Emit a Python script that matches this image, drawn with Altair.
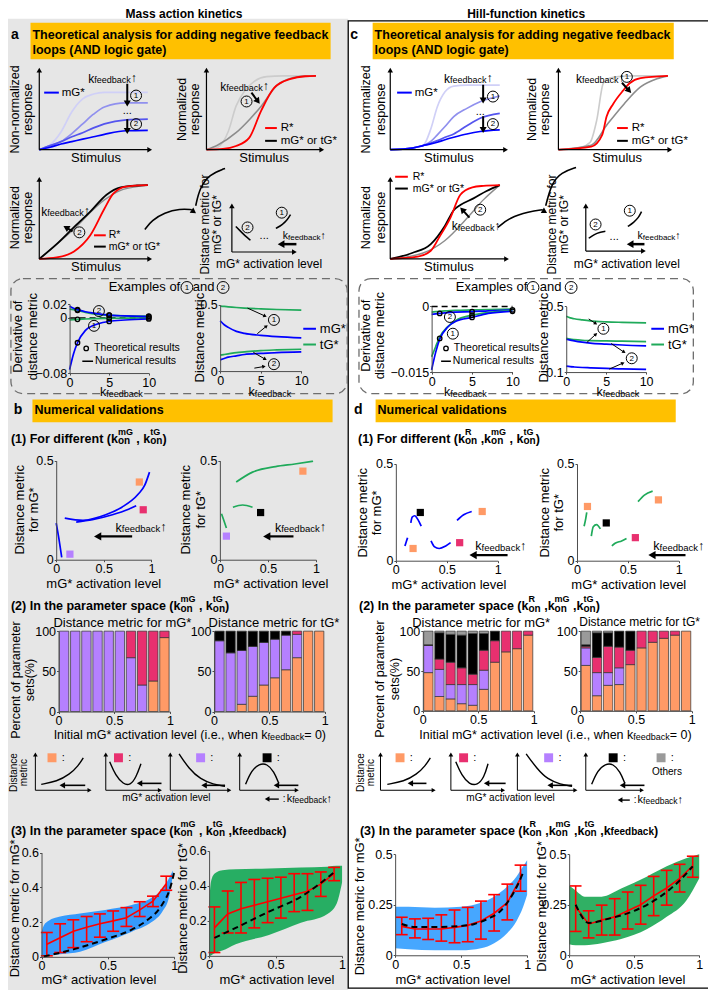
import math
import altair as alt
import pandas as pd

# ============================ DATA ============================
# colours
BLUE, GREEN, RED = "#0000FF", "#1FAA5A", "#FF0000"
OR, MA, PU, BK, GY = "#FF9A66", "#E8306F", "#B580FF", "#000000", "#9A9A9A"

# (a) schematic 1: non-normalized mG* response vs stimulus (4 feedback strengths)
A1_S = [0, 0.1, 0.2, 0.3, 0.4, 0.5, 0.6, 0.8, 1.0]
A1_K0 = [0, 0.06, 0.22, 0.47, 0.63, 0.69, 0.71, 0.71, 0.71]
A1_K1 = [0, 0.05, 0.10, 0.20, 0.32, 0.44, 0.53, 0.58, 0.58]
A1_K2 = [0, 0.05, 0.10, 0.16, 0.21, 0.27, 0.32, 0.37, 0.38]
A1_K3 = [0, 0.03, 0.07, 0.10, 0.13, 0.16, 0.19, 0.235, 0.24]
# (a) schematic 2: normalized responses
A2_LG_X = [0, 0.1, 0.2, 0.27, 0.35, 0.44, 0.55, 0.7, 1.0]
A2_LG_Y = [0, 0.03, 0.25, 0.59, 0.80, 0.93, 0.99, 1.0, 1.0]
A2_DG_X = [0, 0.1, 0.27, 0.4, 0.5, 0.65, 0.85, 1.0]
A2_DG_Y = [0, 0.06, 0.23, 0.42, 0.59, 0.88, 0.99, 1.0]
A2_R_X = [0, 0.15, 0.27, 0.39, 0.5, 0.62, 0.77, 0.9, 1.0]
A2_R_Y = [0, 0.01, 0.05, 0.16, 0.53, 0.84, 0.96, 0.995, 1.0]
# (a) schematic 3
A3_G_X = [0, 0.3, 0.6, 0.75, 0.9, 1.0]
A3_G_Y = [0, 0.38, 0.80, 0.93, 0.98, 1.0]
A3_K_X = [0, 0.16, 0.32, 0.47, 0.62, 0.75, 0.9, 1.0]
A3_K_Y = [0, 0.20, 0.43, 0.64, 0.87, 0.97, 0.995, 1.0]
A3_R_X = [0, 0.16, 0.32, 0.47, 0.6, 0.68, 0.8, 1.0]
A3_R_Y = [0, 0.02, 0.10, 0.32, 0.68, 0.88, 0.98, 1.0]
# (c) schematic 1
C1_S = [0, 0.2, 0.3, 0.37, 0.43, 0.5, 0.58, 0.7, 0.82, 1.0]
C1_K0 = [0, 0.02, 0.05, 0.25, 0.52, 0.70, 0.77, 0.78, 0.78, 0.78]
C1_K1 = [0, 0.02, 0.05, 0.10, 0.18, 0.28, 0.40, 0.50, 0.58, 0.65]
C1_K2 = [0, 0.02, 0.05, 0.08, 0.11, 0.15, 0.19, 0.29, 0.38, 0.44]
C1_K3 = [0, 0.02, 0.05, 0.07, 0.09, 0.12, 0.15, 0.19, 0.22, 0.24]
# (c) schematic 2
C2_LG_X = [0, 0.2, 0.29, 0.35, 0.41, 0.47, 0.55, 0.7, 1.0]
C2_LG_Y = [0, 0.03, 0.10, 0.40, 0.90, 0.97, 0.99, 1.0, 1.0]
C2_R_X = [0, 0.3, 0.4, 0.44, 0.5, 0.59, 0.65, 0.75, 1.0]
C2_R_Y = [0, 0.04, 0.20, 0.45, 0.62, 0.80, 0.90, 0.97, 1.0]
C2_DG_X = [0, 0.3, 0.45, 0.6, 0.75, 0.9, 1.0]
C2_DG_Y = [0, 0.06, 0.35, 0.62, 0.85, 0.96, 1.0]
# (c) schematic 3
C3_R_X = [0, 0.25, 0.37, 0.45, 0.55, 0.64, 0.75, 0.85, 1.0]
C3_R_Y = [0, 0.03, 0.11, 0.30, 0.56, 0.87, 0.97, 0.99, 1.0]
C3_K_X = [0, 0.2, 0.37, 0.5, 0.58, 0.64, 0.76, 0.88, 1.0]
C3_K_Y = [0, 0.08, 0.20, 0.45, 0.66, 0.73, 0.82, 0.92, 1.0]
C3_G_X = [0, 0.3, 0.5, 0.7, 0.85, 1.0]
C3_G_Y = [0, 0.08, 0.25, 0.55, 0.80, 1.0]

# Examples of (1) and (2): k_feedback grid
EX_K = [0, 0.5, 1, 2, 3, 5, 7, 10]
EXA_D_MG1 = [-0.075, -0.052, -0.036, -0.018, -0.011, -0.005, -0.003, -0.0015]
EXA_D_MG2 = [0.017, 0.014, 0.012, 0.009, 0.007, 0.004, 0.003, 0.002]
EXA_D_TG2 = [0.013, 0.012, 0.011, 0.008, 0.006, 0.004, 0.003, 0.0025]
EXA_D_TG1 = [-0.003, -0.0025, -0.002, -0.0015, -0.001, -0.0006, -0.0003, 0.0]
EXA_TH_K = [1, 1, 1, 1, 5, 5, 5, 5, 10, 10, 10, 10]
EXA_TH_V = [-0.036, -0.002, 0.011, 0.012, -0.005, -0.0006, 0.004, 0.004, -0.0015, 0.0, 0.0025, 0.002]
EXA_M_TG1 = [0.49, 0.488, 0.485, 0.48, 0.476, 0.47, 0.465, 0.46]
EXA_M_MG1 = [0.38, 0.35, 0.33, 0.30, 0.285, 0.27, 0.26, 0.25]
EXA_M_TG2 = [0.12, 0.125, 0.13, 0.14, 0.145, 0.155, 0.16, 0.165]
EXA_M_MG2 = [0.085, 0.095, 0.105, 0.115, 0.125, 0.133, 0.14, 0.145]

EXC_D_MG1 = [-0.0145, -0.0105, -0.0075, -0.0047, -0.0034, -0.0025, -0.0016, -0.0011]
EXC_D_TG1 = [-0.0115, -0.0092, -0.0070, -0.0046, -0.0032, -0.0020, -0.0014, -0.0009]
EXC_D_MG2 = [-0.0018, -0.0017, -0.0016, -0.0014, -0.0013, -0.0012, -0.0010, -0.0008]
EXC_D_TG2 = [-0.0013, -0.0012, -0.0011, -0.0010, -0.0009, -0.0008, -0.0007, -0.0006]
EXC_TH_K = [1, 1, 5, 5, 5, 10, 10]
EXC_TH_V = [-0.0073, -0.0016, -0.0025, -0.0020, -0.0012, -0.0011, -0.0008]
EXC_M_TG1 = [0.44, 0.43, 0.425, 0.418, 0.412, 0.406, 0.403, 0.40]
EXC_M_TG2 = [0.306, 0.301, 0.298, 0.294, 0.292, 0.29, 0.288, 0.286]
EXC_M_MG1 = [0.30, 0.295, 0.29, 0.282, 0.276, 0.27, 0.265, 0.26]
EXC_M_MG2 = [0.136, 0.133, 0.131, 0.128, 0.126, 0.122, 0.119, 0.116]

# (b)(1) distance metric vs mG* activation level
B1_MG_C1_X = [0.09, 0.28, 0.52, 0.69, 0.86, 0.93, 0.98]
B1_MG_C1_Y = [0.21, 0.199, 0.227, 0.265, 0.33, 0.376, 0.442]
B1_MG_C2_X = [0.21, 0.38, 0.59, 0.76, 0.84]
B1_MG_C2_Y = [0.19, 0.202, 0.227, 0.255, 0.272]
B1_MG_C3_X = [0.0, 0.024, 0.058]
B1_MG_C3_Y = [0.185, 0.119, 0.012]
B1_MG_SQ_X = [0.873, 0.914, 0.144]
B1_MG_SQ_Y = [0.392, 0.252, 0.028]
B1_MG_SQ_C = [OR, MA, PU]
B1_TG_C1_X = [0.17, 0.34, 0.58, 0.78, 0.97]
B1_TG_C1_Y = [0.392, 0.442, 0.47, 0.483, 0.497]
B1_TG_C2_X = [0.136, 0.237, 0.34]
B1_TG_C2_Y = [0.265, 0.276, 0.265]
B1_TG_C3_X = [0.017, 0.04, 0.068]
B1_TG_C3_Y = [0.232, 0.2, 0.16]
B1_TG_SQ_X = [0.864, 0.424, 0.068]
B1_TG_SQ_Y = [0.447, 0.238, 0.119]
B1_TG_SQ_C = [OR, BK, PU]
# (d)(1)
D1_MG_S1_X = [0.089, 0.115]
D1_MG_S1_Y = [0.076, 0.119]
D1_MG_S2_X = [0.147, 0.16, 0.185, 0.217, 0.249]
D1_MG_S2_Y = [0.195, 0.225, 0.232, 0.212, 0.178]
D1_MG_S3_X = [0.345, 0.377, 0.425, 0.489, 0.537]
D1_MG_S3_Y = [0.102, 0.073, 0.063, 0.076, 0.093]
D1_MG_S4_X = [0.60, 0.665, 0.744]
D1_MG_S4_Y = [0.208, 0.237, 0.254]
D1_MG_SQ_X = [0.24, 0.847, 0.169, 0.626]
D1_MG_SQ_Y = [0.249, 0.254, 0.063, 0.093]
D1_MG_SQ_C = [BK, OR, OR, MA]
D1_TG_S1_X = [0.07, 0.087, 0.096]
D1_TG_S1_Y = [0.178, 0.22, 0.249]
D1_TG_S2_X = [0.141, 0.16, 0.192, 0.23]
D1_TG_S2_Y = [0.127, 0.175, 0.186, 0.164]
D1_TG_S3_X = [0.343, 0.375, 0.439, 0.487]
D1_TG_S3_Y = [0.076, 0.09, 0.102, 0.115]
D1_TG_S4_X = [0.60, 0.663, 0.744]
D1_TG_S4_Y = [0.305, 0.339, 0.359]
D1_TG_SQ_X = [0.103, 0.288, 0.574, 0.801]
D1_TG_SQ_Y = [0.28, 0.195, 0.119, 0.314]
D1_TG_SQ_C = [OR, BK, MA, OR]

# (b)(2) / (d)(2): percent of parameter sets per class (10 bins of initial mG* level)
B2_MG_OR = [0, 0, 0, 0, 0, 0, 0, 0, 38, 92]
B2_MG_PU = [100, 100, 100, 100, 100, 100, 67, 33, 0, 0]
B2_MG_MA = [0, 0, 0, 0, 0, 0, 33, 67, 62, 8]
B2_MG_BK = [0, 0, 0, 0, 0, 0, 0, 0, 0, 0]
B2_TG_OR = [0, 0, 9, 19, 33, 42, 52, 67, 100, 100]
B2_TG_PU = [88, 73, 67, 62, 53, 48, 43, 29, 0, 0]
B2_TG_MA = [0, 0, 0, 0, 0, 0, 0, 4, 0, 0]
B2_TG_BK = [12, 27, 24, 19, 14, 10, 5, 0, 0, 0]
D2_MG_OR = [48, 18, 15, 9, 7, 27, 61, 74, 78, 95]
D2_MG_PU = [34, 34, 18, 24, 26, 24, 0, 0, 0, 0]
D2_MG_MA = [0, 13, 28, 21, 13, 25, 27, 26, 22, 5]
D2_MG_BK = [1, 33, 35, 41, 51, 21, 12, 0, 0, 0]
D2_MG_GY = [17, 2, 4, 5, 3, 3, 0, 0, 0, 0]
D2_TG_OR = [57, 19, 32, 33, 58, 79, 86, 91, 95, 100]
D2_TG_PU = [22, 29, 16, 21, 0, 0, 0, 0, 0, 0]
D2_TG_MA = [2, 19, 33, 26, 18, 21, 14, 9, 5, 0]
D2_TG_BK = [2, 31, 17, 20, 24, 0, 0, 0, 0, 0]
D2_TG_GY = [17, 2, 2, 0, 0, 0, 0, 0, 0, 0]

# (b)(3) / (d)(3): envelopes of the parameter-sample clouds, error bars, trend lines
B3_MG_CX = [0, 0.017, 0.054, 0.14, 0.29, 0.48, 0.68, 0.83, 0.91, 0.96, 0.99]
B3_MG_HI = [0.138, 0.18, 0.207, 0.232, 0.25, 0.27, 0.298, 0.34, 0.39, 0.45, 0.496]
B3_MG_LO = [0.0, 0.0, 0.005, 0.015, 0.03, 0.085, 0.145, 0.2, 0.26, 0.34, 0.47]
B3_MG_EX = [0.04, 0.14, 0.24, 0.34, 0.44, 0.54, 0.64, 0.74, 0.84, 0.94]
B3_MG_EHI = [0.14, 0.19, 0.213, 0.232, 0.247, 0.264, 0.283, 0.317, 0.349, 0.464]
B3_MG_ELO = [0.006, 0.025, 0.053, 0.087, 0.113, 0.147, 0.175, 0.232, 0.289, 0.383]
B3_MG_EMU = [0.072, 0.11, 0.147, 0.17, 0.19, 0.207, 0.225, 0.27, 0.32, 0.42]
B3_MG_DX = [0.017, 0.24, 0.48, 0.68, 0.8, 0.9, 0.975, 1.0]
B3_MG_DY = [0.002, 0.043, 0.1, 0.157, 0.213, 0.29, 0.41, 0.487]

B3_TG_CX = [0, 0.01, 0.03, 0.06, 0.1, 0.2, 0.45, 0.69, 0.89, 0.96, 1.0]
B3_TG_HI = [0.29, 0.40, 0.46, 0.48, 0.49, 0.495, 0.5, 0.505, 0.51, 0.515, 0.515]
B3_TG_LO = [0.0, 0.0, 0.01, 0.02, 0.03, 0.066, 0.12, 0.19, 0.24, 0.30, 0.42]
B3_TG_EX = [0.04, 0.14, 0.24, 0.34, 0.44, 0.54, 0.64, 0.74, 0.84, 0.94]
B3_TG_EHI = [0.28, 0.371, 0.42, 0.437, 0.444, 0.45, 0.47, 0.47, 0.48, 0.506]
B3_TG_ELO = [0.019, 0.131, 0.131, 0.16, 0.19, 0.216, 0.253, 0.26, 0.34, 0.43]
B3_TG_EMU = [0.16, 0.24, 0.27, 0.29, 0.31, 0.33, 0.35, 0.37, 0.41, 0.47]
B3_TG_DX = [0.04, 0.2, 0.45, 0.69, 0.94]
B3_TG_DY = [0.103, 0.16, 0.253, 0.338, 0.478]

D3_MG_CX = [0, 0.1, 0.3, 0.5, 0.65, 0.75, 0.85, 0.92, 0.97, 1.0]
D3_MG_HI = [0.24, 0.24, 0.235, 0.24, 0.26, 0.29, 0.34, 0.39, 0.44, 0.47]
D3_MG_LO = [0.035, 0.03, 0.025, 0.025, 0.035, 0.06, 0.11, 0.17, 0.24, 0.30]
D3_MG_EX = [0.05, 0.15, 0.25, 0.35, 0.45, 0.55, 0.65, 0.75, 0.85, 0.95]
D3_MG_EHI = [0.188, 0.18, 0.183, 0.2, 0.224, 0.237, 0.268, 0.3, 0.352, 0.446]
D3_MG_ELO = [0.102, 0.086, 0.078, 0.07, 0.062, 0.067, 0.08, 0.12, 0.175, 0.317]
D3_MG_EMU = [0.143, 0.13, 0.13, 0.13, 0.138, 0.148, 0.17, 0.208, 0.26, 0.38]
D3_MG_DX = [0.05, 0.15, 0.3, 0.5, 0.6, 0.7, 0.8, 0.87, 0.93, 0.97]
D3_MG_DY = [0.155, 0.14, 0.14, 0.145, 0.155, 0.18, 0.22, 0.28, 0.35, 0.41]

D3_TG_CX = [0, 0.05, 0.12, 0.25, 0.4, 0.6, 0.75, 0.9, 1.0]
D3_TG_HI = [0.345, 0.32, 0.29, 0.29, 0.33, 0.39, 0.44, 0.48, 0.50]
D3_TG_LO = [0.055, 0.05, 0.05, 0.06, 0.08, 0.13, 0.19, 0.27, 0.38]
D3_TG_EX = [0.05, 0.15, 0.25, 0.35, 0.45, 0.55, 0.65, 0.75, 0.85, 0.95]
D3_TG_EHI = [0.343, 0.22, 0.248, 0.28, 0.313, 0.346, 0.39, 0.42, 0.45, 0.49]
D3_TG_ELO = [0.118, 0.086, 0.1, 0.1, 0.13, 0.154, 0.196, 0.248, 0.313, 0.386]
D3_TG_EMU = [0.24, 0.154, 0.175, 0.19, 0.22, 0.25, 0.294, 0.333, 0.38, 0.443]
D3_TG_DX = [0.05, 0.15, 0.3, 0.5, 0.7, 0.85, 0.95]
D3_TG_DY = [0.25, 0.16, 0.18, 0.22, 0.29, 0.37, 0.44]

# ============================ LAYOUT HELPERS ============================
W, H = 700, 982
KX, KY = W / 716.0, H / 998.0


def X(v):
    return round(v * KX, 2)


def Y(v):
    return round(v * KY, 2)


LAYERS_BG, LAYERS_DATA = [], []
TXT_ROWS, LINE_ROWS, HEAD_ROWS, CIRC_ROWS, SQ_ROWS, OPEN_ROWS = [], [], [], [], [], []


class Box:
    def __init__(self, xd, xr, yd, yr):
        self.xd, self.xr, self.yd, self.yr = xd, xr, yd, yr

    def xs(self):
        return alt.Scale(domain=self.xd, range=[X(self.xr[0]), X(self.xr[1])], nice=False, zero=False)

    def ys(self):
        return alt.Scale(domain=self.yd, range=[Y(self.yr[0]), Y(self.yr[1])], nice=False, zero=False)


def enc_xy(box, xf="x", yf="y"):
    return dict(x=alt.X(f"{xf}:Q", scale=box.xs(), axis=None),
                y=alt.Y(f"{yf}:Q", scale=box.ys(), axis=None))


AX_STYLE = dict(format=".4~g", title=None, zindex=1, grid=False, labelFlush=False, domainColor="#4D4D4D",
                tickColor="#4D4D4D", labelColor="black", labelFontSize=12.5, tickSize=2, labelPadding=1,
                domainWidth=1)


def add_axes(box, xticks, yticks):
    df = pd.DataFrame({"x": box.xd, "y": box.yd})
    LAYERS_DATA.append(alt.Chart(df).mark_point(opacity=0).encode(
        x=alt.X("x:Q", scale=box.xs(),
                axis=alt.Axis(orient="bottom", offset=Y(box.yr[0]) - H, values=xticks, **AX_STYLE)),
        y=alt.Y("y:Q", scale=box.ys(),
                axis=alt.Axis(orient="left", offset=-X(box.xr[0]), values=yticks, **AX_STYLE))))


def add_line(box, xs, ys, color, sw=1.7, dash=None, interp="monotone"):
    kw = dict(color=color, strokeWidth=sw, interpolate=interp)
    if dash:
        kw["strokeDash"] = dash
    LAYERS_DATA.append(alt.Chart(pd.DataFrame({"x": xs, "y": ys})).mark_line(**kw).encode(**enc_xy(box)))


def add_squares(box, xs, ys, cols, size=52):
    df = pd.DataFrame({"x": xs, "y": ys, "c": cols})
    LAYERS_DATA.append(alt.Chart(df).mark_square(size=size, opacity=1).encode(
        **enc_xy(box), color=alt.Color("c:N", scale=None)))


def add_open(box, xs, ys, size=20):
    df = pd.DataFrame({"x": xs, "y": ys})
    LAYERS_DATA.append(alt.Chart(df).mark_point(shape="circle", filled=False, color="black", size=size,
                                                strokeWidth=1.3, opacity=1).encode(**enc_xy(box)))


def add_bars(box, stack):
    rows = []
    for i in range(10):
        base = 0
        for hs, col in stack:
            h = hs[i]
            if h > 0:
                rows.append(dict(x0=i * 0.1 + 0.008, x1=i * 0.1 + 0.092, y0=base, y1=base + h, c=col))
            base += h
    df = pd.DataFrame(rows)
    LAYERS_DATA.append(alt.Chart(df).mark_rect(stroke="#333333", strokeWidth=0.7).encode(
        x=alt.X("x0:Q", scale=box.xs(), axis=None), x2="x1:Q",
        y=alt.Y("y0:Q", scale=box.ys(), axis=None), y2="y1:Q",
        color=alt.Color("c:N", scale=None)))


def add_cloud(box, xs, lo, hi, color, opacity=0.88):
    df = pd.DataFrame({"x": xs, "lo": lo, "hi": hi})
    LAYERS_DATA.append(alt.Chart(df).mark_area(color=color, opacity=opacity, interpolate="monotone").encode(
        x=alt.X("x:Q", scale=box.xs(), axis=None),
        y=alt.Y("hi:Q", scale=box.ys(), axis=None), y2="lo:Q"))


def add_err(box, xs, lo, hi, mu, cap=0.045, color=RED, sw=1.6):
    df = pd.DataFrame({"x": xs, "lo": lo, "hi": hi, "mu": mu,
                       "xl": [v - cap for v in xs], "xr": [v + cap for v in xs]})
    base = alt.Chart(df)
    LAYERS_DATA.append(base.mark_rule(color=color, strokeWidth=sw).encode(
        x=alt.X("x:Q", scale=box.xs(), axis=None), y=alt.Y("lo:Q", scale=box.ys(), axis=None), y2="hi:Q"))
    for f in ("lo", "hi"):
        LAYERS_DATA.append(base.mark_rule(color=color, strokeWidth=sw).encode(
            x=alt.X("xl:Q", scale=box.xs(), axis=None), x2="xr:Q",
            y=alt.Y(f"{f}:Q", scale=box.ys(), axis=None)))
    LAYERS_DATA.append(base.mark_line(color=color, strokeWidth=sw).encode(
        x=alt.X("x:Q", scale=box.xs(), axis=None), y=alt.Y("mu:Q", scale=box.ys(), axis=None)))


# ---- decoration helpers (layout only) ----
def txt_c(cx, cy, t, s=12.5, w="normal", a="left", c="black", ang=0):
    TXT_ROWS.append(dict(x=round(cx, 2), y=round(cy, 2), t=t, s=s, w=w, a=a, c=c, ang=ang))


def txt(x, y, t, s=12.5, w="normal", a="left", c="black", ang=0):
    txt_c(X(x), Y(y), t, s, w, a, c, ang)


_LOW_R = dict(zip("abcdefghijklmnopqrstuvwxyz",
                  [556, 556, 500, 556, 556, 278, 556, 556, 222, 222, 500, 222, 833, 556, 556, 556, 556, 333, 500,
                   278, 556, 500, 722, 500, 500, 500]))
_LOW_B = dict(zip("abcdefghijklmnopqrstuvwxyz",
                  [556, 611, 556, 611, 556, 333, 611, 611, 278, 278, 556, 278, 889, 611, 611, 611, 611, 389, 556,
                   333, 611, 556, 778, 556, 556, 500]))
_UP_R = dict(zip("ABCDEFGHIJKLMNOPQRSTUVWXYZ",
                 [667, 667, 722, 722, 667, 611, 778, 722, 278, 500, 667, 556, 833, 722, 778, 667, 778, 722, 667,
                  611, 722, 667, 944, 667, 667, 611]))
_UP_B = dict(zip("ABCDEFGHIJKLMNOPQRSTUVWXYZ",
                 [722, 722, 722, 722, 667, 611, 778, 722, 278, 556, 722, 611, 833, 722, 778, 667, 778, 722, 667,
                  611, 722, 667, 944, 667, 667, 611]))
_PUN = {" ": 278, "(": 333, ")": 333, "*": 389, ",": 278, ".": 278, "-": 333, "=": 584, ":": 278, "%": 889,
        "\u2191": 500}


def tw(t, s, w="normal"):
    tot = 0
    for ch in t:
        if ch.isdigit():
            tot += 556
        elif ch in _PUN:
            tot += _PUN[ch]
        elif ch.islower():
            tot += (_LOW_B if w == "bold" else _LOW_R).get(ch, 556)
        elif ch.isupper():
            tot += (_UP_B if w == "bold" else _UP_R).get(ch, 667)
        else:
            tot += 556
    return tot * s / 1000.0


def rich(x, y, parts, w="normal", a="left"):
    def pw(p):
        if p[0] == "t":
            return tw(p[1], p[2], w)
        return max(tw(p[1], p[3], w), tw(p[2], p[4], w))
    total = sum(pw(p) for p in parts)
    cx = X(x) - (total / 2 if a == "center" else 0)
    cy = Y(y)
    for p in parts:
        if p[0] == "t":
            t = p[1]
            lead = len(t) - len(t.lstrip(" "))
            if t.strip():
                txt_c(cx + lead * 0.278 * p[2], cy + p[3], t.strip(), p[2], w)
        else:
            txt_c(cx, cy + 2.5, p[1], p[3], w)
            txt_c(cx, cy - 7, p[2], p[4], w)
        cx += pw(p)


_lid = [0]


def poly(pts, c="black", sw=1.0, kind="straight"):
    _lid[0] += 1
    for i, (x, y) in enumerate(pts):
        LINE_ROWS.append(dict(id=_lid[0], o=i, x=X(x), y=Y(y), c=c, sw=sw, kind=kind))


def head(x, y, ang, s=30):
    HEAD_ROWS.append(dict(x=X(x), y=Y(y), ang=round(ang, 1), s=s))


def arrow(x0, y0, x1, y1, sw=1.0, hs=30):
    dx, dy = x1 - x0, y1 - y0
    L = math.hypot(dx, dy)
    ux, uy = dx / L, dy / L
    r = math.sqrt(hs)
    poly([(x0, y0), (x1 - ux * r * 0.75, y1 - uy * r * 0.75)], sw=sw)
    ang = (math.degrees(math.atan2(ux, -uy)) + 360) % 360
    head(x1 - ux * r * 0.56, y1 - uy * r * 0.56, ang, hs)


def circ(x, y, n, s=120):
    CIRC_ROWS.append(dict(x=X(x), y=Y(y), s=s))
    txt(x, y + 0.3, n, 8, a="center")


def sq(x, y, c, s=80):
    SQ_ROWS.append(dict(x=X(x), y=Y(y), c=c, s=s))


def sch_axes(ox, oy, xe, yt, sw=1.2, hs=30):
    arrow(ox, oy, ox, yt, sw, hs)
    arrow(ox, oy, xe, oy, sw, hs)


def kfb(x, y, s=12, s2=9, up=True, w="normal", dy=1.5):
    parts = [("t", "k", s, 0), ("t", "feedback", s2, dy)]
    if up:
        parts.append(("t", "\u2191", s, -0.5))
    rich(x, y, parts, w=w)


def rect_layer(rows, **kw):
    df = pd.DataFrame([dict(x=X(a), y=Y(b), x2=X(c), y2=Y(d)) for a, b, c, d in rows])
    LAYERS_BG.append(alt.Chart(df).mark_rect(**kw).encode(
        x=alt.X("x:Q", scale=None, axis=None), x2="x2:Q",
        y=alt.Y("y:Q", scale=None, axis=None), y2="y2:Q"))


def ss(sup):
    return ("ss", "on", sup, 10, 9)


# ============================ BACKGROUND / FRAMES ============================
rect_layer([(0, 11, 348, 998)], color="#E6E6E6")
rect_layer([(348, 13, 740, 996)], fillOpacity=0, stroke="black", strokeWidth=1.3)
rect_layer([(23, 15, 330, 52), (373, 15, 681, 52), (25, 398, 332, 421), (376, 398, 683, 421)], color="#FFC000")
rect_layer([(3, 275, 347, 392), (359, 275, 701, 392)], fillOpacity=0, stroke="#6E6E6E", strokeWidth=1.3,
           strokeDash=[8, 5], cornerRadius=12)

txt(180, 6, "Mass action kinetics", 12, "bold", "center")
txt(530, 6, "Hill-function kinetics", 12, "bold", "center")
txt(3, 27, "a", 14, "bold")
txt(350, 27, "c", 14, "bold")
for x0 in (25, 375):
    txt(x0, 27, "Theoretical analysis for adding negative feedback", 12.5, "bold")
    txt(x0, 42.5, "loops (AND logic gate)", 12.5, "bold")
txt(6, 409, "b", 14, "bold")
txt(27, 409, "Numerical validations", 12.5, "bold")
txt(354, 409, "d", 14, "bold")
txt(378, 409, "Numerical validations", 12.5, "bold")

# ============================ (a) schematics ============================
sch_axes(32, 144, 148, 60)
BA1 = Box([0, 1], (32, 143), [0, 1], (144, 62))
for ys, col in zip([A1_K0, A1_K1, A1_K2, A1_K3], ["#D0D0F7", "#9090EE", "#5555EE", BLUE]):
    add_line(BA1, A1_S, ys, col, sw=1.7)
poly([(37, 86), (52, 86)], c=BLUE, sw=2)
txt(55, 86, "mG*", 11.5)
kfb(82, 72)
arrow(122, 77, 122, 101, sw=2, hs=50)
arrow(122, 113, 122, 129, sw=2, hs=50)
circ(131, 89, "1")
circ(131, 118, "2")
txt(122, 105, "...", 11, a="center")
txt(7, 103, "Non-normalized", 12.5, a="center", ang=270)
txt(20, 103, "response", 12.5, a="center", ang=270)
txt(90, 152, "Stimulus", 13, a="center")

sch_axes(203, 144, 324, 60)
BA2 = Box([0, 1], (203, 315), [0, 1], (144, 69))
add_line(BA2, A2_LG_X, A2_LG_Y, "#CCCCCC", 1.6)
add_line(BA2, A2_DG_X, A2_DG_Y, "#8C8C8C", 1.6)
add_line(BA2, A2_R_X, A2_R_Y, RED, 1.8)
poly([(263, 122), (275, 122)], c=RED, sw=2)
txt(279, 122, "R*", 11.5)
poly([(263, 135), (275, 135)], c="black", sw=2)
txt(279, 135, "mG* or tG*", 11.5)
kfb(217, 80)
arrow(249, 86, 258, 98, sw=2, hs=50)
circ(244, 95, "1")
txt(178, 103, "Normalized", 12.5, a="center", ang=270)
txt(191, 103, "response", 12.5, a="center", ang=270)
txt(262, 152, "Stimulus", 13, a="center")

sch_axes(32, 255, 148, 171)
BA3 = Box([0, 1], (32, 143), [0, 1], (255, 180))
add_line(BA3, A3_G_X, A3_G_Y, "#8C8C8C", 1.4)
add_line(BA3, A3_K_X, A3_K_Y, "black", 1.8)
add_line(BA3, A3_R_X, A3_R_Y, RED, 1.8)
poly([(88, 231), (100, 231)], c=RED, sw=2)
txt(103, 231, "R*", 10.5)
poly([(88, 242.5), (100, 242.5)], c="black", sw=2)
txt(103, 242.5, "mG* or tG*", 10.5)
kfb(34, 207)
arrow(66, 227, 56, 221, sw=2, hs=50)
circ(73, 228, "2")
txt(7, 213, "Normalized", 12.5, a="center", ang=270)
txt(20, 213, "response", 12.5, a="center", ang=270)
txt(90, 263, "Stimulus", 13, a="center")

poly([(140, 225), (147, 216), (160, 208), (176, 204), (188, 205)], sw=1.6, kind="smooth")
head(190, 207, 125, 40)
poly([(192, 201), (196, 183), (206, 169), (222, 163)], sw=1.6, kind="smooth")

sch_axes(229, 248, 296, 198)
poly([(274, 224), (281, 220), (286, 215), (289, 210)], sw=1.5, kind="smooth")
poly([(233, 222), (238, 227), (243, 232), (248, 236)], sw=1.5, kind="smooth")
circ(280, 208, "1")
circ(245, 223, "2")
txt(262, 232, "...", 11, a="center")
arrow(295, 240, 275, 240, sw=2.5, hs=60)
kfb(281, 232, s=10.5, s2=8)
txt(267, 260, "mG* activation level", 12, a="center")
txt(202, 220, "Distance metric for", 12, a="center", ang=270)
txt(214, 220, "mG* or tG*", 12, a="center", ang=270)

# ============================ (c) schematics ============================
sch_axes(391, 144, 512, 60)
BC1 = Box([0, 1], (391, 503), [0, 1], (144, 60))
for ys, col in zip([C1_K0, C1_K1, C1_K2, C1_K3], ["#D0D0F7", "#9090EE", "#5555EE", BLUE]):
    add_line(BC1, C1_S, ys, col, sw=1.7)
poly([(398, 86), (413, 86)], c=BLUE, sw=2)
txt(416, 86, "mG*", 11.5)
kfb(446, 72)
arrow(486, 78, 486, 98, sw=2, hs=50)
arrow(486, 110, 486, 128, sw=2, hs=50)
circ(496, 90, "1")
circ(496, 118, "2")
txt(483, 106, "...", 11, a="center")
txt(366, 103, "Non-normalized", 12.5, a="center", ang=270)
txt(382, 103, "response", 12.5, a="center", ang=270)
txt(451, 152, "Stimulus", 13, a="center")

sch_axes(563, 144, 680, 60)
BC2 = Box([0, 1], (563, 675), [0, 1], (144, 69))
add_line(BC2, C2_LG_X, C2_LG_Y, "#CCCCCC", 1.6)
add_line(BC2, C2_DG_X, C2_DG_Y, "#8C8C8C", 1.6)
add_line(BC2, C2_R_X, C2_R_Y, RED, 1.8)
poly([(623, 122), (634, 122)], c=RED, sw=2)
txt(638, 122, "R*", 11.5)
poly([(623, 135), (634, 135)], c="black", sw=2)
txt(638, 135, "mG* or tG*", 11.5)
kfb(581, 72)
arrow(628, 76, 638, 87, sw=2, hs=50)
circ(633, 70, "1")
txt(536, 103, "Normalized", 12.5, a="center", ang=270)
txt(549, 103, "response", 12.5, a="center", ang=270)
txt(623, 152, "Stimulus", 13, a="center")

sch_axes(391, 255, 513, 171)
BC3 = Box([0, 1], (391, 503), [0, 1], (255, 180))
add_line(BC3, C3_G_X, C3_G_Y, "#8C8C8C", 1.4)
add_line(BC3, C3_K_X, C3_K_Y, "black", 1.8)
add_line(BC3, C3_R_X, C3_R_Y, RED, 1.8)
poly([(396, 171.5), (409, 171.5)], c=RED, sw=2)
txt(414, 171.5, "R*", 10.5)
poly([(396, 183.5), (409, 183.5)], c="black", sw=2)
txt(414, 183.5, "mG* or tG*", 10.5)
kfb(454, 222)
arrow(472, 213, 462, 202, sw=2, hs=50)
circ(483, 205, "2")
txt(366, 213, "Normalized", 12.5, a="center", ang=270)
txt(382, 213, "response", 12.5, a="center", ang=270)
txt(451, 263, "Stimulus", 13, a="center")

poly([(501, 223), (513, 213), (533, 207), (547, 205)], sw=1.6, kind="smooth")
head(549, 207, 120, 40)
poly([(550, 201), (556, 178), (566, 167), (581, 162)], sw=1.6, kind="smooth")

sch_axes(591, 247, 653, 198)
poly([(634, 222), (640, 218), (645, 213), (648, 207)], sw=1.5, kind="smooth")
poly([(594, 234), (600, 230), (605, 228), (611, 227)], sw=1.5, kind="smooth")
circ(636, 206, "1")
circ(601, 220, "2")
txt(620, 233, "...", 11, a="center")
arrow(651, 240, 632, 240, sw=2.5, hs=60)
kfb(644, 232, s=10.5, s2=8)
txt(633, 260, "mG* activation level", 12, a="center")
txt(556, 220, "Distance metric for", 12, a="center", ang=270)
txt(569, 220, "mG* or tG*", 12, a="center", ang=270)

# ============================ Examples of (1) and (2) ============================
txt(103, 284, "Examples of", 13)
circ(183, 284, "1", 140)
txt(189, 284, "and", 13)
circ(220, 284, "2", 140)
txt(458, 284, "Examples of", 13)
circ(537, 284, "1", 140)
txt(544, 284, "and", 13)
circ(576, 284, "2", 140)

BAD = Box([0, 10], (63, 144), [-0.08, 0.02], (371, 301))
add_axes(BAD, [0, 5, 10], [-0.08, 0, 0.02])
add_line(BAD, [0, 10], [0, 0], "black", 1.5, dash=[6, 4], interp="linear")
add_line(BAD, EX_K, EXA_D_TG2, GREEN)
add_line(BAD, EX_K, EXA_D_TG1, GREEN)
add_line(BAD, EX_K, EXA_D_MG2, BLUE)
add_line(BAD, EX_K, EXA_D_MG1, BLUE)
add_open(BAD, EXA_TH_K, EXA_TH_V)
circ(93, 308, "2")
circ(88, 323, "1")
OPEN_ROWS.append(dict(x=X(80), y=Y(346)))
txt(88, 346, "Theoretical results", 10.5)
poly([(76, 359), (87, 359)], sw=1.5)
txt(89, 359, "Numerical results", 10.5)
txt(10, 334, "Derivative of", 13, a="center", ang=270)
txt(26, 334, "distance metric", 13, a="center", ang=270)
rich(94, 390, [("t", "k", 12.5, 0), ("t", "feedback", 9, 2.5)])

BAM = Box([0, 10], (217, 300), [0, 0.5], (369, 301.7))
add_axes(BAM, [0, 5, 10], [0, 0.5])
add_line(BAM, EX_K, EXA_M_TG1, GREEN)
add_line(BAM, EX_K, EXA_M_MG1, BLUE)
add_line(BAM, EX_K, EXA_M_TG2, GREEN)
add_line(BAM, EX_K, EXA_M_MG2, BLUE)
circ(272, 317, "1")
circ(272, 362, "2")
arrow(245, 305, 265, 314, sw=1, hs=16)
arrow(255, 331, 266, 322, sw=1, hs=16)
arrow(251, 350, 265, 358, sw=1, hs=16)
arrow(252, 366, 264, 364, sw=1, hs=16)
poly([(302, 326), (315, 326)], c=BLUE, sw=2)
txt(319, 326, "mG*", 13)
poly([(302, 342), (315, 342)], c=GREEN, sw=2)
txt(319, 342, "tG*", 13)
txt(196, 335, "Distance metric", 13, a="center", ang=270)
rich(246, 390, [("t", "k", 12.5, 0), ("t", "feedback", 9, 2.5)])

BCD = Box([0, 10], (433.3, 516), [-0.015, 0], (370, 303.3))
add_axes(BCD, [0, 5, 10], [-0.015, 0])
add_line(BCD, [0, 10], [0, 0], "black", 1.5, dash=[6, 4], interp="linear")
add_line(BCD, EX_K, EXC_D_TG2, GREEN)
add_line(BCD, EX_K, EXC_D_MG2, BLUE)
add_line(BCD, EX_K, EXC_D_TG1, GREEN)
add_line(BCD, EX_K, EXC_D_MG1, BLUE)
add_open(BCD, EXC_TH_K, EXC_TH_V)
circ(452, 314, "2")
circ(455, 331, "1")
OPEN_ROWS.append(dict(x=X(448), y=Y(346)))
txt(456, 346, "Theoretical results", 10.5)
poly([(443, 359), (453, 359)], sw=1.5)
txt(455, 359, "Numerical results", 10.5)
txt(366, 333, "Derivative of", 13, a="center", ang=270)
txt(381, 333, "distance metric", 13, a="center", ang=270)
rich(446, 390, [("t", "k", 12.5, 0), ("t", "feedback", 9, 2.5)])

BCM = Box([0, 10], (571, 652.7), [0.1, 0.5], (370, 303.3))
add_axes(BCM, [0, 5, 10], [0.1, 0.5])
add_line(BCM, EX_K, EXC_M_TG1, GREEN)
add_line(BCM, EX_K, EXC_M_TG2, GREEN)
add_line(BCM, EX_K, EXC_M_MG1, BLUE)
add_line(BCM, EX_K, EXC_M_MG2, BLUE)
circ(609, 326, "1")
circ(638, 356, "2")
arrow(594, 316, 603, 322, sw=1, hs=16)
arrow(592, 340, 603, 330, sw=1, hs=16)
arrow(617, 341, 632, 351, sw=1, hs=16)
arrow(615, 367, 631, 360, sw=1, hs=16)
poly([(658, 326), (671, 326)], c=BLUE, sw=2)
txt(675, 326, "mG*", 13)
poly([(658, 342), (671, 342)], c=GREEN, sw=2)
txt(675, 342, "tG*", 13)
txt(548, 335, "Distance metric", 13, a="center", ang=270)
rich(602, 390, [("t", "k", 12.5, 0), ("t", "feedback", 9, 2.5)])

# ============================ (b)/(d) (1) ============================
rich(3, 438, [("t", "(1) For different (", 12.5, 0), ("t", "k", 12.5, 0), ss("mG"), ("t", " , ", 12.5, 0),
              ("t", "k", 12.5, 0), ss("tG"), ("t", ")", 12.5, 0)], w="bold")
rich(358, 438, [("t", "(1) For different (", 12.5, 0), ("t", "k", 12.5, 0), ss("R"), ("t", " ,", 12.5, 0),
                ("t", "k", 12.5, 0), ss("mG"), ("t", " , ", 12.5, 0), ("t", "k", 12.5, 0), ss("tG"),
                ("t", ")", 12.5, 0)], w="bold")

BB1L = Box([0, 1], (49.3, 146.7), [0, 0.5], (560.7, 460))
add_axes(BB1L, [0, 0.5, 1], [0, 0.5])
add_line(BB1L, B1_MG_C1_X, B1_MG_C1_Y, BLUE)
add_line(BB1L, B1_MG_C2_X, B1_MG_C2_Y, BLUE)
add_line(BB1L, B1_MG_C3_X, B1_MG_C3_Y, BLUE)
add_squares(BB1L, B1_MG_SQ_X, B1_MG_SQ_Y, B1_MG_SQ_C)
arrow(127, 537, 87, 537, sw=2.2, hs=70)
kfb(110, 528, s=12.5, s2=9.5)
txt(12, 510, "Distance metric", 13, a="center", ang=270)
txt(27, 510, "for mG*", 13, a="center", ang=270)
txt(98, 585.5, "mG* activation level", 13, a="center")

BB1R = Box([0, 1], (216.7, 315), [0, 0.5], (560.7, 460))
add_axes(BB1R, [0, 0.5, 1], [0, 0.5])
add_line(BB1R, B1_TG_C1_X, B1_TG_C1_Y, GREEN)
add_line(BB1R, B1_TG_C2_X, B1_TG_C2_Y, GREEN)
add_line(BB1R, B1_TG_C3_X, B1_TG_C3_Y, GREEN)
add_squares(BB1R, B1_TG_SQ_X, B1_TG_SQ_Y, B1_TG_SQ_C)
arrow(292, 537, 260, 537, sw=2.2, hs=70)
kfb(273, 528, s=12.5, s2=9.5)
txt(182, 510, "Distance metric", 13, a="center", ang=270)
txt(197, 510, "for tG*", 13, a="center", ang=270)
txt(269, 585.5, "mG* activation level", 13, a="center")

BD1L = Box([0, 1], (396.7, 501), [0, 0.5], (561.7, 463.3))
add_axes(BD1L, [0, 0.5, 1], [0, 0.5])
for xs_, ys_ in [(D1_MG_S1_X, D1_MG_S1_Y), (D1_MG_S2_X, D1_MG_S2_Y), (D1_MG_S3_X, D1_MG_S3_Y),
                 (D1_MG_S4_X, D1_MG_S4_Y)]:
    add_line(BD1L, xs_, ys_, BLUE)
add_squares(BD1L, D1_MG_SQ_X, D1_MG_SQ_Y, D1_MG_SQ_C)
arrow(511, 556, 471, 556, sw=2.2, hs=70)
kfb(478, 547, s=12.5, s2=9.5)
txt(363, 513, "Distance metric", 13, a="center", ang=270)
txt(377, 513, "for mG*", 13, a="center", ang=270)
txt(451, 586, "mG* activation level", 13, a="center")

BD1R = Box([0, 1], (582, 686), [0, 0.5], (561.7, 463.3))
add_axes(BD1R, [0, 0.5, 1], [0, 0.5])
for xs_, ys_ in [(D1_TG_S1_X, D1_TG_S1_Y), (D1_TG_S2_X, D1_TG_S2_Y), (D1_TG_S3_X, D1_TG_S3_Y),
                 (D1_TG_S4_X, D1_TG_S4_Y)]:
    add_line(BD1R, xs_, ys_, GREEN)
add_squares(BD1R, D1_TG_SQ_X, D1_TG_SQ_Y, D1_TG_SQ_C)
arrow(693, 556, 654, 556, sw=2.2, hs=70)
kfb(660, 547, s=12.5, s2=9.5)
txt(549, 513, "Distance metric", 13, a="center", ang=270)
txt(564, 513, "for tG*", 13, a="center", ang=270)
txt(635, 586, "mG* activation level", 13, a="center")

# ============================ (b)/(d) (2) ============================
rich(3, 608, [("t", "(2) In the parameter space (", 12.5, 0), ("t", "k", 12.5, 0), ss("mG"),
              ("t", " , ", 12.5, 0), ("t", "k", 12.5, 0), ss("tG"), ("t", ")", 12.5, 0)], w="bold")
rich(359, 608, [("t", "(2) In the parameter space (", 12.5, 0), ("t", "k", 12.5, 0), ss("R"),
                ("t", " ,", 12.5, 0), ("t", "k", 12.5, 0), ss("mG"), ("t", " ,", 12.5, 0),
                ("t", "k", 12.5, 0), ss("tG"), ("t", ")", 12.5, 0)], w="bold")

BB2L = Box([0, 1], (51.7, 165.7), [0, 100], (715, 633.3))
add_axes(BB2L, [0, 0.5, 1], [0, 50, 100])
add_bars(BB2L, [(B2_MG_OR, OR), (B2_MG_PU, PU), (B2_MG_MA, MA), (B2_MG_BK, BK)])
txt(117, 625, "Distance metric for mG*", 13, a="center")
BB2R = Box([0, 1], (210.7, 324), [0, 100], (715, 633.3))
add_axes(BB2R, [0, 0.5, 1], [0, 50, 100])
add_bars(BB2R, [(B2_TG_OR, OR), (B2_TG_PU, PU), (B2_TG_MA, MA), (B2_TG_BK, BK)])
txt(272, 625, "Distance metric for tG*", 13, a="center")
txt(8, 683, "Percent of parameter", 12.5, a="center", ang=270)
txt(22, 683, "sets(%)", 12.5, a="center", ang=270)
rich(186, 739, [("t", "Initial mG* activation level (i.e., when ", 12.5, 0), ("t", "k", 12.5, 0),
                ("t", "feedback", 9, 1.5), ("t", "= 0)", 12.5, 0)], a="center")

BD2L = Box([0, 1], (424.3, 537.7), [0, 100], (714.3, 633.3))
add_axes(BD2L, [0, 0.5, 1], [0, 50, 100])
add_bars(BD2L, [(D2_MG_OR, OR), (D2_MG_PU, PU), (D2_MG_MA, MA), (D2_MG_BK, BK), (D2_MG_GY, GY)])
txt(484, 625, "Distance metric for mG*", 13, a="center")
BD2R = Box([0, 1], (585.3, 699.3), [0, 100], (714.3, 633.3))
add_axes(BD2R, [0, 0.5, 1], [0, 50, 100])
add_bars(BD2R, [(D2_TG_OR, OR), (D2_TG_PU, PU), (D2_TG_MA, MA), (D2_TG_BK, BK), (D2_TG_GY, GY)])
txt(646, 624, "Distance metric for tG*", 12, a="center")
txt(381, 682, "Percent of parameter", 12.5, a="center", ang=270)
txt(396, 682, "sets(%)", 12.5, a="center", ang=270)
rich(560, 739, [("t", "Initial mG* activation level (i.e., when ", 12.5, 0), ("t", "k", 12.5, 0),
                ("t", "feedback", 9, 1.5), ("t", "= 0)", 12.5, 0)], a="center")


# legend schematics row
def mini(ox, xe, curve, sqx, sqc, ax0, ax1, ay):
    sch_axes(ox, 795, xe, 756, sw=1, hs=22)
    poly(curve, sw=1.4, kind="smooth")
    sq(sqx, 762, sqc)
    txt(sqx + 10, 762, ":", 11)
    arrow(ax0, ay, ax1, ay, sw=1.6, hs=40)


txt(6, 777, "Distance", 10, a="center", ang=270)
txt(16, 777, "metric", 10, a="center", ang=270)
mini(28, 86, [(34, 789), (50, 786), (63, 779), (72, 770), (77, 762)], 45, OR, 79, 52, 790)
mini(100, 158, [(104, 766), (110, 780), (118, 789), (125, 790), (131, 782), (136, 768)], 113, MA, 157, 131, 788)
mini(166, 229, [(175, 758), (185, 773), (197, 784), (210, 789), (222, 791)], 197, PU, 222, 197, 790)
mini(237, 298, [(243, 789), (249, 775), (257, 768), (265, 768), (272, 776), (277, 788)], 265, BK, 297, 271, 790)
txt(162, 803, "mG* activation level", 10, a="center")
arrow(277, 804, 262, 804, sw=1.4, hs=30)
txt(281, 804, ":", 10)
rich(285, 804, [("t", "k", 11, 0), ("t", "feedback", 8.5, 1), ("t", "\u2191", 11, 0)])

txt(361, 777, "Distance", 10, a="center", ang=270)
txt(371, 777, "metric", 10, a="center", ang=270)
mini(381, 438, [(388, 789), (405, 786), (418, 779), (427, 770), (432, 762)], 401, OR, 428, 408, 788)
mini(453, 509, [(458, 766), (464, 780), (472, 789), (480, 790), (487, 782), (491, 768)], 466, MA, 509, 486, 788)
mini(521, 583, [(530, 758), (541, 773), (552, 784), (565, 789), (577, 791)], 553, PU, 577, 551, 790)
mini(591, 651, [(597, 789), (603, 775), (611, 768), (619, 768), (626, 776), (631, 788)], 619, BK, 651, 625, 790)
sq(668, 762, GY)
txt(678, 762, ":", 11)
txt(674, 776, "Others", 10, a="center")
txt(514, 803, "mG* activation level", 10, a="center")
arrow(636, 805, 623, 805, sw=1.4, hs=30)
txt(640, 805, ":", 10)
rich(644, 805, [("t", "k", 11, 0), ("t", "feedback", 8.5, 1), ("t", "\u2191", 11, 0)])

# ============================ (b)/(d) (3) ============================
rich(3, 836, [("t", "(3) In the parameter space (", 12.5, 0), ("t", "k", 12.5, 0), ss("mG"),
              ("t", " , ", 12.5, 0), ("t", "k", 12.5, 0), ss("tG"), ("t", " ,", 12.5, 0),
              ("t", "k", 12.5, 0), ("t", "feedback", 10, 1.5), ("t", ")", 12.5, 0)], w="bold")
rich(360, 836, [("t", "(3) In the parameter space (", 12.5, 0), ("t", "k", 12.5, 0), ss("R"),
                ("t", " ,", 12.5, 0), ("t", "k", 12.5, 0), ss("mG"), ("t", " ,", 12.5, 0),
                ("t", "k", 12.5, 0), ss("tG"), ("t", " ,", 12.5, 0), ("t", "k", 12.5, 0),
                ("t", "feedback", 10, 1.5), ("t", ")", 12.5, 0)], w="bold")

BB3L = Box([0, 1], (34.3, 170), [0, 0.6], (964.3, 858.3))
add_axes(BB3L, [0, 0.5, 1], [0, 0.2, 0.4, 0.6])
add_cloud(BB3L, B3_MG_CX, B3_MG_LO, B3_MG_HI, "#1E8FFF")
add_err(BB3L, B3_MG_EX, B3_MG_ELO, B3_MG_EHI, B3_MG_EMU)
add_line(BB3L, B3_MG_DX, B3_MG_DY, "black", 2, dash=[6, 4])
txt(7, 915, "Distance metric for mG*", 13, a="center", ang=270)
txt(93, 987.5, "mG* activation level", 13, a="center")

BB3R = Box([0, 1], (205.7, 341.7), [0, 0.6], (963.3, 856.7))
add_axes(BB3R, [0, 0.5, 1], [0, 0.2, 0.4, 0.6])
add_cloud(BB3R, B3_TG_CX, B3_TG_LO, B3_TG_HI, "#0DA651")
add_err(BB3R, B3_TG_EX, B3_TG_ELO, B3_TG_EHI, B3_TG_EMU)
add_line(BB3R, B3_TG_DX, B3_TG_DY, "black", 2, dash=[6, 4])
txt(179, 915, "Distance metric for tG*", 13, a="center", ang=270)
txt(275, 987.5, "mG* activation level", 13, a="center")

BD3L = Box([0, 1], (396, 531), [0, 0.5], (962.7, 860))
add_axes(BD3L, [0, 0.5, 1], [0, 0.25, 0.5])
add_cloud(BD3L, D3_MG_CX, D3_MG_LO, D3_MG_HI, "#2C9BFF")
add_err(BD3L, D3_MG_EX, D3_MG_ELO, D3_MG_EHI, D3_MG_EMU)
add_line(BD3L, D3_MG_DX, D3_MG_DY, "black", 2, dash=[6, 4])
txt(360, 913, "Distance metric for mG*", 13, a="center", ang=270)
txt(455, 987.5, "mG* activation level", 13, a="center")

BD3R = Box([0, 1], (574, 707), [0, 0.5], (962.7, 860))
add_axes(BD3R, [0, 0.5, 1], [0, 0.25, 0.5])
add_cloud(BD3R, D3_TG_CX, D3_TG_LO, D3_TG_HI, "#13A54F")
add_err(BD3R, D3_TG_EX, D3_TG_ELO, D3_TG_EHI, D3_TG_EMU)
add_line(BD3R, D3_TG_DX, D3_TG_DY, "black", 2, dash=[6, 4])
txt(546, 913, "Distance metric for tG*", 13, a="center", ang=270)
txt(634, 987.5, "mG* activation level", 13, a="center")


# ============================ DECORATION LAYERS ============================
def PX(f):
    return alt.X(f"{f}:Q", scale=None, axis=None)


def PY(f):
    return alt.Y(f"{f}:Q", scale=None, axis=None)


DECOR = []
ldf = pd.DataFrame(LINE_ROWS)
for kind, g in ldf.groupby("kind"):
    kw = dict(interpolate="basis" if kind == "smooth" else "linear")
    DECOR.append(alt.Chart(g).mark_line(**kw).encode(
        x=PX("x"), y=PY("y"), detail="id:N", order="o:Q",
        color=alt.Color("c:N", scale=None), strokeWidth=alt.StrokeWidth("sw:Q", scale=None)))
DECOR.append(alt.Chart(pd.DataFrame(HEAD_ROWS)).mark_point(
    shape="triangle-up", filled=True, color="black", opacity=1, strokeWidth=0).encode(
    x=PX("x"), y=PY("y"), angle=alt.Angle("ang:Q", scale=None), size=alt.Size("s:Q", scale=None)))
DECOR.append(alt.Chart(pd.DataFrame(CIRC_ROWS)).mark_point(
    shape="circle", filled=False, color="black", strokeWidth=1, opacity=1).encode(
    x=PX("x"), y=PY("y"), size=alt.Size("s:Q", scale=None)))
DECOR.append(alt.Chart(pd.DataFrame(OPEN_ROWS)).mark_point(
    shape="circle", filled=False, color="black", strokeWidth=1.3, opacity=1, size=20).encode(
    x=PX("x"), y=PY("y")))
DECOR.append(alt.Chart(pd.DataFrame(SQ_ROWS)).mark_square(opacity=1).encode(
    x=PX("x"), y=PY("y"), color=alt.Color("c:N", scale=None), size=alt.Size("s:Q", scale=None)))
tdf = pd.DataFrame(TXT_ROWS)
for (w, a), g in tdf.groupby(["w", "a"]):
    DECOR.append(alt.Chart(g).mark_text(align=a, baseline="middle", fontWeight=w).encode(
        x=PX("x"), y=PY("y"), text="t:N", size=alt.Size("s:Q", scale=None),
        color=alt.Color("c:N", scale=None), angle=alt.Angle("ang:Q", scale=None)))

chart = alt.layer(*(LAYERS_BG + LAYERS_DATA + DECOR)).resolve_scale(x="independent", y="independent")
chart = chart.properties(width=W, height=H, padding=0, autosize=alt.AutoSizeParams(type="none"),
                         background="white")
chart = chart.configure(font="Liberation Sans").configure_view(strokeWidth=0).configure_axis(
    grid=False, labelFlush=False, zindex=1)
chart.save("out.html", embed_options={"renderer": "svg", "actions": False})
